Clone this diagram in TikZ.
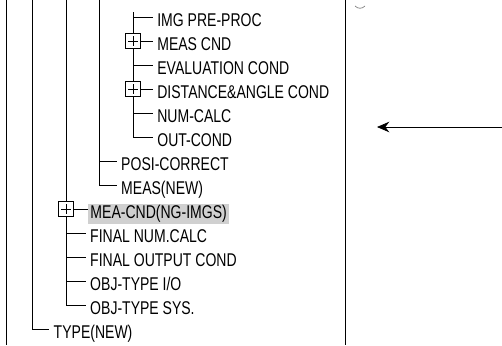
\documentclass[tikz,border=0pt]{standalone}
\usepackage{fontspec}
\setmainfont{Liberation Sans}[FakeStretch=0.76]
\usepackage{tikz}
\usetikzlibrary{arrows.meta,backgrounds}
\pgfdeclarelayer{edgelayer}
\pgfdeclarelayer{nodelayer}
\pgfsetlayers{background,edgelayer,nodelayer,main}
\definecolor{hlgray}{RGB}{208,208,208}
\tikzstyle{none}=[inner sep=0mm]
\tikzstyle{lbl}=[anchor=west,inner xsep=2.5pt,inner ysep=0pt,text height=11pt,text depth=0pt,font=\fontsize{10.5}{12}\selectfont]
\tikzstyle{hl}=[lbl,inner xsep=1.5pt,text height=8.4pt,text depth=3.1pt,fill=hlgray]
\tikzstyle{pb}=[draw,fill=white,minimum size=8.5pt,inner sep=0pt,
	path picture={
		\draw ([xshift=-2.6pt]path picture bounding box.center) -- ([xshift=2.6pt]path picture bounding box.center);
		\draw ([yshift=-2.6pt]path picture bounding box.center) -- ([yshift=2.6pt]path picture bounding box.center);
	}]

\begin{document}
\begin{tikzpicture}[x=0.02cm,y=-0.02cm,line width=0.75pt]
	\useasboundingbox (0,0) rectangle (502,345);
	\begin{pgfonlayer}{nodelayer}
		\node [style=none] (l0t) at (6.7, 0) {};
		\node [style=none] (l0b) at (6.7, 345) {};
		\node [style=none] (l1t) at (32, 0) {};
		\node [style=none] (l2t) at (66, 0) {};
		\node [style=none] (l3t) at (99, 0) {};
		\node [style=none] (l4t) at (133, 12) {};
		\node [style=none] (frt) at (345, 0) {};
		\node [style=none] (frb) at (345, 345) {};
		\node [style=lbl] (imgpre) at (152.6, 17) {IMG PRE-PROC};
		\node [style=pb] (pbmeas) at (133, 41) {};
		\node [style=lbl] (meascnd) at (152.6, 41) {MEAS CND};
		\node [style=lbl] (evalcnd) at (152.6, 65) {EVALUATION COND};
		\node [style=pb] (pbdist) at (133, 89) {};
		\node [style=lbl] (distcnd) at (152.6, 89) {DISTANCE\&ANGLE COND};
		\node [style=lbl] (numcalc) at (152.6, 113) {NUM-CALC};
		\node [style=lbl] (outcnd) at (152.6, 137) {OUT-COND};
		\node [style=lbl] (posi) at (116.5, 161) {POSI-CORRECT};
		\node [style=lbl] (measnew) at (116.5, 185) {MEAS(NEW)};
		\node [style=pb] (pbmea) at (66, 209) {};
		\node [style=hl] (meang) at (87.5, 214) {MEA-CND(NG-IMGS)};
		\node [style=lbl] (finnum) at (85.5, 233) {FINAL NUM.CALC};
		\node [style=lbl] (finout) at (85.5, 257) {FINAL OUTPUT COND};
		\node [style=lbl] (objio) at (85.5, 281) {OBJ-TYPE I/O};
		\node [style=lbl] (objsys) at (85.5, 305) {OBJ-TYPE SYS.};
		\node [style=lbl] (typenew) at (49, 329) {TYPE(NEW)};
		\node [style=none] (arrs) at (502, 127) {};
		\node [style=none] (arrt) at (377, 127) {};
	\end{pgfonlayer}
	\begin{pgfonlayer}{edgelayer}
		\draw (l0t.center) to (l0b.center);
		\draw (frt.center) to (frb.center);
		\draw (l1t.center) |- (typenew.west);
		\draw (l2t.center) |- (objsys.west);
		\draw (l2t.center) |- (objio.west);
		\draw (l2t.center) |- (finout.west);
		\draw (l2t.center) |- (finnum.west);
		\draw (pbmea) to (pbmea.east -| meang.west);
		\draw (l3t.center) |- (measnew.west);
		\draw (l3t.center) |- (posi.west);
		\draw (l4t.center) |- (outcnd.west);
		\draw (l4t.center) |- (numcalc.west);
		\draw (l4t.center) |- (evalcnd.west);
		\draw (l4t.center) |- (imgpre.west);
		\draw (pbmeas) to (meascnd.west);
		\draw (pbdist) to (distcnd.west);
		\draw [-{Stealth[length=7pt,width=6pt]}] (arrs.center) to (arrt.center);
		\draw [gray,line width=0.4pt] (355, 6) .. controls (358, 9) and (362, 9) .. (365, 6);
	\end{pgfonlayer}
\end{tikzpicture}
\end{document}
